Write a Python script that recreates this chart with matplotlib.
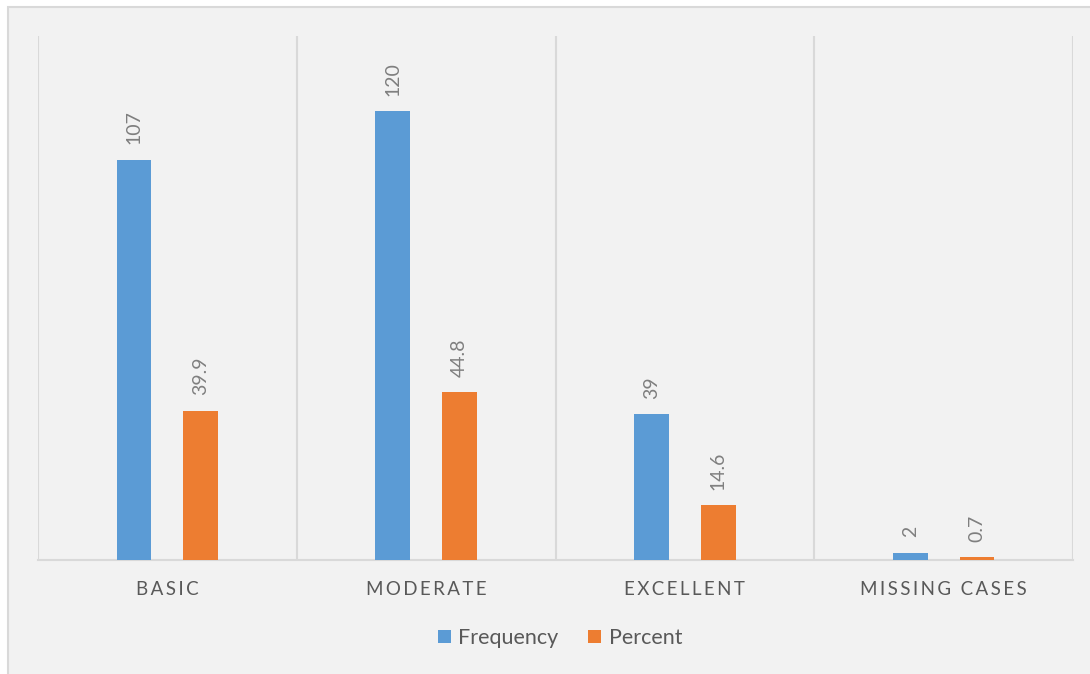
import matplotlib.pyplot as plt
import numpy as np
from matplotlib.patches import Rectangle

# data
categories = ["BASIC", "MODERATE", "EXCELLENT", "MISSING CASES"]
frequency = [107, 120, 39, 2]
percent = [39.9, 44.8, 14.6, 0.7]

blue = "#5b9bd5"
orange = "#ed7d31"
grid_col = "#d9d9d9"
bg = "#f2f2f2"

plt.rcParams['font.family'] = ['Lato', 'DejaVu Sans']

fig = plt.figure(figsize=(10.9, 6.74), dpi=100)
fig.patch.set_facecolor("white")
# chart area with grey border (cut off at right and bottom)
fig.patches.append(Rectangle((8 / 1090, -0.01), 1.02, 1 - 7 / 674 + 0.01,
                             transform=fig.transFigure, facecolor=bg,
                             edgecolor=grid_col, linewidth=1.5, zorder=-1))

ax = fig.add_axes([38 / 1090, 1 - 560 / 674, (1073 - 38) / 1090, (560 - 36) / 674])
ax.set_facecolor(bg)

x = np.arange(len(categories))
w = 0.135
off = 0.129
b1 = ax.bar(x - off, frequency, w, color=blue, label="Frequency", zorder=3)
b2 = ax.bar(x + off, percent, w, color=orange, label="Percent", zorder=3)

for bars, vals in ((b1, frequency), (b2, percent)):
    for rect, v in zip(bars, vals):
        ax.annotate(f"{v:g}", (rect.get_x() + rect.get_width() / 2, rect.get_height()),
                    xytext=(0, 11), textcoords="offset points", rotation=90,
                    ha="center", va="bottom", fontsize=14, color="#7f7f7f")

ax.set_xlim(-0.5, len(categories) - 0.5)
ax.set_ylim(0, 140)
ax.set_yticks([])

# spaced-out category labels
spaced = ["\u2009".join(c) for c in categories]
ax.set_xticks(x)
ax.set_xticklabels(spaced, fontsize=13.5, color="#595959")
ax.tick_params(axis="x", length=0, pad=15)

# vertical separators between categories
ax.set_xticks(np.arange(-0.5, len(categories)), minor=True)
ax.tick_params(axis="x", which="minor", length=0)
ax.grid(axis="x", which="minor", color=grid_col, linewidth=1.5, zorder=0)

for s in ["top", "right", "left"]:
    ax.spines[s].set_visible(False)
ax.spines["bottom"].set_color(grid_col)
ax.spines["bottom"].set_linewidth(1.5)

fig.legend(handles=[b1, b2], loc="center", bbox_to_anchor=(560 / 1090, 1 - 638 / 674),
           ncol=2, frameon=False, fontsize=15.5, labelcolor="#595959",
           handlelength=0.6, handleheight=0.6, handletextpad=0.35, columnspacing=1.4)

fig.savefig("out.png", dpi=100, facecolor=fig.get_facecolor())
